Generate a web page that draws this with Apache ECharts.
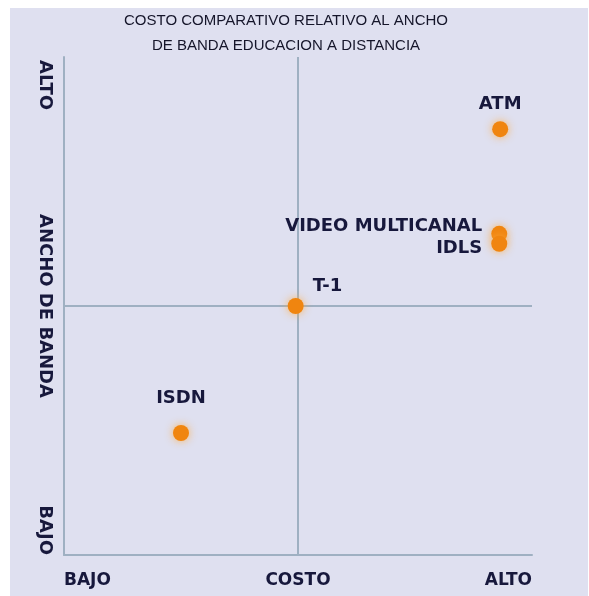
<!DOCTYPE html>
<html>
<head>
<meta charset="utf-8">
<script src="https://cdn.jsdelivr.net/npm/echarts@6/dist/echarts.min.js"></script>
<style>
html,body{margin:0;padding:0;background:#ffffff;}
#c{width:589px;height:596px;}
</style>
</head>
<body>
<div id="c"></div>
<script>
// Data
var titleLines = ['COSTO COMPARATIVO RELATIVO AL ANCHO', 'DE BANDA EDUCACION A DISTANCIA'];
var pointNames = ['ATM', 'VIDEO MULTICANAL', 'IDLS', 'T-1', 'ISDN'];
var costValues = [9.32, 9.3, 9.3, 4.95, 2.5];      // x: COSTO
var bandwidthValues = [8.55, 6.45, 6.25, 5.0, 2.45]; // y: ANCHO DE BANDA
var xTickLabels = {0: 'BAJO', 5: 'COSTO', 10: 'ALTO'};
var yTickLabels = {0: 'BAJO', 5: 'ANCHO DE BANDA', 10: 'ALTO'};
var labelPositions = ['top', 'left', 'left', 'right', 'top'];
var labelOffsets = [[0, -3], [-4, -7], [-4, 5], [4, -20], [0, -13]];

var chart = echarts.init(document.getElementById('c'), null, {renderer: 'canvas'});
var textColor = '#17183c';
var lineColor = '#9fb0c2';
var font = 'DejaVu Sans';

var data = pointNames.map(function (n, i) {
  return {
    name: n,
    value: [costValues[i], bandwidthValues[i]],
    label: {position: labelPositions[i], offset: labelOffsets[i]}
  };
});

var option = {
  backgroundColor: 'transparent',
  animation: false,
  title: {
    text: titleLines.join('\n'),
    left: 281, top: 3, textAlign: 'center',
    textStyle: {fontFamily: 'Liberation Sans', fontSize: 15, fontWeight: 'normal', color: '#15152a', lineHeight: 25}
  },
  grid: {left: 64, right: 57, top: 57, bottom: 41},
  xAxis: {
    type: 'value', min: 0, max: 10, interval: 5,
    axisLine: {show: true, lineStyle: {color: lineColor, width: 2}},
    axisTick: {show: false},
    splitLine: {show: false},
    axisLabel: {
      margin: 17,
      alignMinLabel: 'left', alignMaxLabel: 'right',
      fontFamily: font, fontWeight: 'bold', fontSize: 17, color: textColor,
      formatter: function (v) {
        var t = xTickLabels[v] || '';
        return v === 5 ? '{c|' + t + '}' : t;
      },
      rich: {c: {fontFamily: font, fontWeight: 'bold', fontSize: 17, color: textColor, padding: [0, 0, 12, 0]}}
    }
  },
  yAxis: {
    type: 'value', min: 0, max: 10, interval: 5,
    axisLine: {show: true, lineStyle: {color: lineColor, width: 2}},
    axisTick: {show: false},
    splitLine: {show: false},
    axisLabel: {show: false}
  },
  series: [{
    type: 'scatter',
    data: data,
    symbol: 'circle',
    symbolSize: 16,
    itemStyle: {color: '#f0850f', opacity: 1, shadowBlur: 8, shadowColor: 'rgba(255,170,60,0.8)'},
    label: {
      show: true,
      formatter: '{b}',
      fontFamily: font, fontWeight: 'bold', fontSize: 18, color: textColor,
      opacity: 1, textBorderWidth: 0
    },
    emphasis: {disabled: true},
    markLine: {
      silent: true,
      symbol: 'none',
      label: {show: false},
      lineStyle: {color: lineColor, width: 2, type: 'solid'},
      data: [{xAxis: 5}, {yAxis: 5}],
      z: 1
    },
    z: 3
  }]
};
chart.setOption(option);

// Y axis labels rotated (read top to bottom), placed through the axis scale
var yKeys = Object.keys(yTickLabels).map(Number);
var gx = chart.convertToPixel({gridIndex: 0}, [0, 0])[0];
var graphics = [{
  type: 'rect', z: -10, silent: true,
  shape: {x: 10, y: 8, width: 578, height: 588},
  style: {fill: '#dfe0f0'}
}];
yKeys.forEach(function (k) {
  var py = chart.convertToPixel({gridIndex: 0}, [0, k])[1];
  var align = k === 0 ? 'right' : (k === 10 ? 'left' : 'center');
  graphics.push({
    type: 'text',
    x: gx - 19, y: py + (k === 10 ? 3 : 0),
    rotation: -Math.PI / 2,
    style: {
      text: yTickLabels[k],
      fontFamily: font, fontWeight: 'bold', fontSize: 18, fill: textColor,
      align: align, verticalAlign: 'middle'
    }
  });
});
chart.setOption({graphic: graphics});
</script>
</body>
</html>
